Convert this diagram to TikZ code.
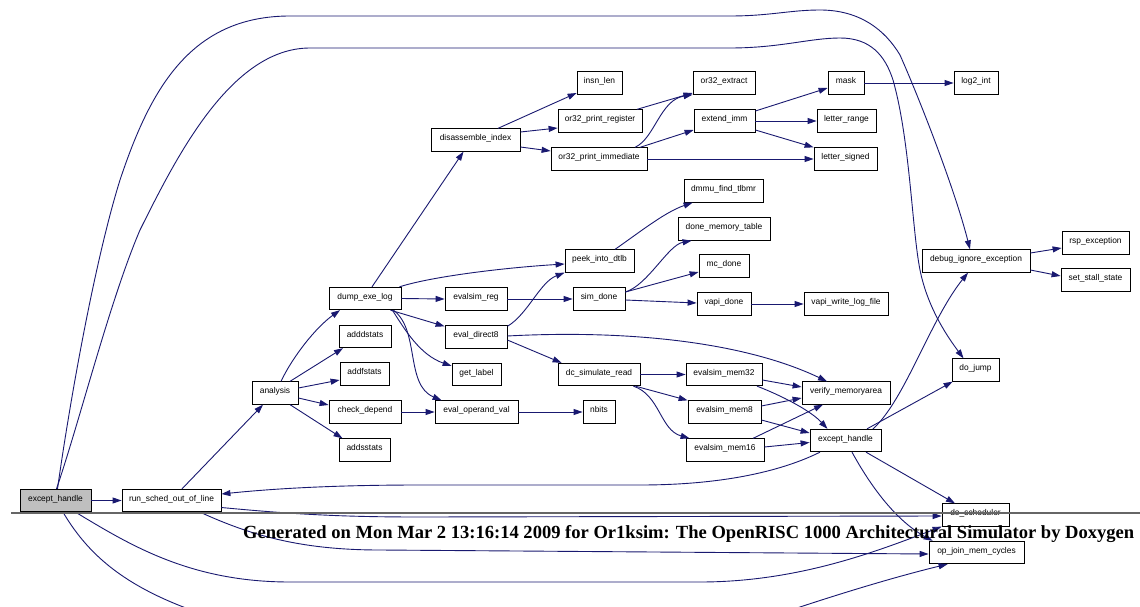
\documentclass[tikz,border=0pt]{standalone}
\usepackage{fontspec}
\usepackage{graphicx}
\setmainfont{Liberation Serif}
\newfontfamily\helv{Liberation Sans}
\usetikzlibrary{arrows.meta}
\definecolor{edgeblue}{HTML}{191970}
\definecolor{rootgray}{HTML}{BFBFBF}
\tikzset{
 fn/.style={draw=black, line width=0.8pt, fill=white, inner sep=0pt, minimum height=22.5pt, text height=4.5pt, text depth=3.5pt, font=\helv\fontsize{8.4}{10}\selectfont, text=black},
 link/.style={draw=edgeblue, line width=0.9pt, -{Triangle[length=9pt,width=6pt]}},
}
\begin{document}
\begin{tikzpicture}[x=1pt,y=-1pt]
\fill[white] (0,0) rectangle (1140,607);
\useasboundingbox (0,0) rectangle (1140,607);

% nodes
\node[fn, minimum width=71pt, fill=rootgray] (eh0) at (55.5,500.5) {except\_handle};
\node[fn, minimum width=99pt] (rsool) at (171.5,500.5) {run\_sched\_out\_of\_line};
\node[fn, minimum width=46pt] (analysis) at (275,393) {analysis};
\node[fn, minimum width=72pt] (dump) at (365,298.5) {dump\_exe\_log};
\node[fn, minimum width=52pt] (adddstats) at (365,336.5) {adddstats};
\node[fn, minimum width=49pt] (addfstats) at (364.5,374) {addfstats};
\node[fn, minimum width=72pt] (check) at (365,412) {check\_depend};
\node[fn, minimum width=51pt] (addsstats) at (364.5,450) {addsstats};
\node[fn, minimum width=62pt] (evreg) at (476,299) {evalsim\_reg};
\node[fn, minimum width=62pt] (ed8) at (476,337) {eval\_direct8};
\node[fn, minimum width=49pt] (getlabel) at (476.5,374.5) {get\_label};
\node[fn, minimum width=83pt] (eov) at (476.5,412) {eval\_operand\_val};
\node[fn, minimum width=89pt] (disasm) at (475.5,140) {disassemble\_index};
\node[fn, minimum width=52pt] (simdone) at (599,299) {sim\_done};
\node[fn, minimum width=69pt] (peek) at (599.5,261) {peek\_into\_dtlb};
\node[fn, minimum width=82pt] (dcsr) at (599,374.5) {dc\_simulate\_read};
\node[fn, minimum width=32pt] (nbits) at (599,412) {nbits};
\node[fn, minimum width=45pt] (insn) at (599.5,83) {insn\_len};
\node[fn, minimum width=84pt] (opr) at (600,121) {or32\_print\_register};
\node[fn, minimum width=96pt] (opi) at (599,159) {or32\_print\_immediate};
\node[fn, minimum width=62pt] (ox) at (724,83) {or32\_extract};
\node[fn, minimum width=61pt] (ei) at (724.5,121) {extend\_imm};
\node[fn, minimum width=79pt] (dmmu) at (723.5,191) {dmmu\_find\_tlbmr};
\node[fn, minimum width=92pt] (dmt) at (724,229) {done\_memory\_table};
\node[fn, minimum width=50pt] (mc) at (724,266) {mc\_done};
\node[fn, minimum width=54pt] (vapi) at (724,304) {vapi\_done};
\node[fn, minimum width=76pt] (evm32) at (724,374.5) {evalsim\_mem32};
\node[fn, minimum width=73pt] (evm8) at (724.5,412) {evalsim\_mem8};
\node[fn, minimum width=78pt] (evm16) at (725,450) {evalsim\_mem16};
\node[fn, minimum width=36pt] (mask) at (846,83) {mask};
\node[fn, minimum width=59pt] (lr) at (846.5,121) {letter\_range};
\node[fn, minimum width=63pt] (ls) at (845.5,159) {letter\_signed};
\node[fn, minimum width=84pt] (vwlf) at (846,304) {vapi\_write\_log\_file};
\node[fn, minimum width=88pt] (vm) at (846,393) {verify\_memoryarea};
\node[fn, minimum width=71pt] (eh1) at (845.5,440.5) {except\_handle};
\node[fn, minimum width=44pt] (log2) at (976,83) {log2\_int};
\node[fn, minimum width=108pt] (debug) at (976,261) {debug\_ignore\_exception};
\node[fn, minimum width=47pt] (dojump) at (975.5,370) {do\_jump};
\node[fn, minimum width=67pt] (dos) at (975.5,515) {do\_scheduler};
\node[fn, minimum width=95pt] (opj) at (976.5,552.5) {op\_join\_mem\_cycles};
\node[fn, minimum width=67pt] (rsp) at (1095.5,243) {rsp\_exception};
\node[fn, minimum width=69pt] (sss) at (1095.5,280) {set\_stall\_state};

% edges
\draw[link] (eh0.east) -- (rsool.west);
\draw[link] ([xshift=10.5pt]rsool.north) -- ([xshift=-12pt]analysis.south);
\draw[link] ([xshift=6pt]analysis.north) .. controls (292,358) and (315,328) .. ([xshift=-25pt]dump.south);
\draw[link] ([xshift=15pt]analysis.north) -- ([xshift=-22pt]adddstats.south);
\draw[link] ([yshift=5pt]analysis.east) -- ([yshift=-6pt]addfstats.west);
\draw[link] ([yshift=-5pt]analysis.east) -- ([yshift=7pt]check.west);
\draw[link] ([xshift=15pt]analysis.south) -- ([xshift=-22pt]addsstats.north);
\draw[link] ([xshift=7pt]dump.north) -- ([xshift=-12pt]disasm.south);
\draw[link] ([xshift=-2pt]dump.north east) .. controls (430,277) and (500,268) .. ([yshift=-3pt]peek.west);
\draw[link] (dump.east) -- (evreg.west);
\draw[link] ([xshift=-11pt]dump.south east) -- ([yshift=-1pt]ed8.north west);
\draw[link] ([xshift=-9pt]dump.south east) .. controls (405,330) and (420,355) .. ([yshift=8.5pt]getlabel.west);
\draw[link] ([xshift=-8pt]dump.south east) .. controls (420,330) and (405,385) .. ([xshift=7pt]eov.north west);
\draw[link] (check.east) -- (eov.west);
\draw[link] (eov.east) -- (nbits.west);
\draw[link] (evreg.east) -- (simdone.west);
\draw[link] ([yshift=-1pt]ed8.north east) .. controls (528,314) and (540,282) .. (peek.south west);
\draw[link] ([yshift=-3pt]ed8.east) -- ([xshift=4pt]dcsr.north west);
\draw[link] ([yshift=1pt]ed8.east) .. controls (620,330) and (740,340) .. ([xshift=-19pt]vm.north);
\draw[link] ([yshift=7pt]simdone.east) .. controls (648,285) and (668,245) .. ([xshift=14pt]dmt.south west);
\draw[link] ([yshift=7pt]simdone.east) -- ([yshift=-6pt]mc.west);
\draw[link] ([yshift=-1pt]simdone.east) -- ([yshift=1pt]vapi.west);
\draw[link] (vapi.east) -- (vwlf.west);
\draw[link] ([xshift=15.5pt]peek.north) .. controls (640,232) and (665,212) .. ([xshift=9pt]dmmu.south west);
\draw[link] (dcsr.east) -- (evm32.west);
\draw[link] ([xshift=-5pt]dcsr.south east) -- (evm8.north west);
\draw[link] ([xshift=-7pt]dcsr.south east) .. controls (660,395) and (660,430) .. ([xshift=4pt]evm16.north west);
\draw[link] ([xshift=22.5pt]disasm.north) -- ([yshift=-10pt]insn.west);
\draw[link] ([yshift=8pt]disasm.east) -- ([yshift=-7pt]opr.west);
\draw[link] ([yshift=-7pt]disasm.east) -- ([yshift=8pt]opi.west);
\draw[link] ([xshift=37pt]opr.north) -- ([yshift=-10pt]ox.west);
\draw[link] ([xshift=36pt]opi.north) .. controls (655,138) and (660,100) .. (ox.south west);
\draw[link] ([xshift=41pt]opi.north) -- ([yshift=-9pt]ei.west);
\draw[link] (opi.east) -- (ls.west);
\draw[link] ([yshift=10pt]ei.east) -- ([yshift=-5pt]mask.west);
\draw[link] (ei.east) -- (lr.west);
\draw[link] ([yshift=-9pt]ei.east) -- (ls.north west);
\draw[link] (mask.east) -- (log2.west);
\draw[link] ([yshift=8pt]debug.east) -- ([yshift=-5pt]rsp.west);
\draw[link] ([yshift=-9pt]debug.east) -- ([yshift=4pt]sss.west);
\draw[link] ([yshift=-5.5pt]evm32.east) -- ([yshift=6pt]vm.west);
\draw[link] ([yshift=6pt]evm8.east) -- ([yshift=-5pt]vm.west);
\draw[link] ([xshift=28pt]evm16.north) -- ([xshift=-23pt]vm.south);
\draw[link] ([xshift=33pt]evm32.south) .. controls (780,395) and (810,410) .. ([xshift=-18pt]eh1.north);
\draw[link] ([yshift=-8pt]evm8.east) -- ([yshift=7.5pt]eh1.west);
\draw[link] ([yshift=3pt]evm16.east) -- ([yshift=-2pt]eh1.west);
\draw[link] ([xshift=21.5pt]eh1.north) -- ([xshift=1pt]dojump.south west);
\draw[link] ([xshift=27.5pt]eh1.north) .. controls (905,400) and (930,320) .. ([xshift=-8pt]debug.south);
\draw[link] ([xshift=20.5pt]eh1.south) -- ([xshift=-20.5pt]dos.north);
\draw[link] ([xshift=6.5pt]eh1.south) .. controls (870,485) and (895,520) .. ([xshift=4pt]opj.north west);
\draw[link] ([xshift=-25.5pt]eh1.south) .. controls (780,472) and (720,485) .. (640,485) -- (420,485) .. controls (330,485) and (270,489) .. ([yshift=6.5pt]rsool.east);

% long edges from the root
\draw[link] ([xshift=2pt]eh0.north) .. controls (70,400) and (95,260) .. (120,180) .. controls (150,90) and (190,16) .. (290,16) -- (730,16) .. controls (770,16) and (790,10) .. (820,10) .. controls (860,10) and (885,30) .. (900,55) .. controls (920,100) and (955,190) .. ([xshift=-6pt]debug.north);
\draw[link] ([xshift=1pt]eh0.north) .. controls (80,420) and (110,300) .. (140,230) .. controls (175,160) and (230,48) .. (310,48) -- (730,48) .. controls (780,48) and (810,38) .. (840,38) .. controls (870,38) and (885,55) .. (893,80) .. controls (910,140) and (912,230) .. (920,270) .. controls (928,310) and (950,340) .. ([xshift=-12pt]dojump.north);
\draw[link] ([xshift=20pt]eh0.south) .. controls (130,545) and (190,582) .. (290,582) -- (700,582) .. controls (800,582) and (880,550) .. (dos.south west);
\draw[link] ([xshift=7.5pt]eh0.south) .. controls (100,575) and (160,610) .. (300,640) .. controls (450,670) and (700,640) .. (800,607) .. controls (870,584) and (915,572) .. ([xshift=19pt]opj.south west);
\draw[link] ([yshift=-7pt]rsool.east) .. controls (300,515) and (350,517) .. (420,517) -- ([yshift=-1pt]dos.west);
\draw[link] ([xshift=28.5pt]rsool.south) .. controls (250,535) and (300,550) .. (380,550) -- ([yshift=-1.5pt]opj.west);

% footer
\draw[black!60, line width=1.2pt] (11,513) -- (1140,513);
\node[anchor=base west, inner sep=0pt] (footer) at (243,538) {\resizebox{891pt}{!}{\bfseries Generated on Mon Mar 2 13:16:14 2009 for Or1ksim: The OpenRISC 1000 Architectural Simulator by Doxygen}};
\end{tikzpicture}
\end{document}
